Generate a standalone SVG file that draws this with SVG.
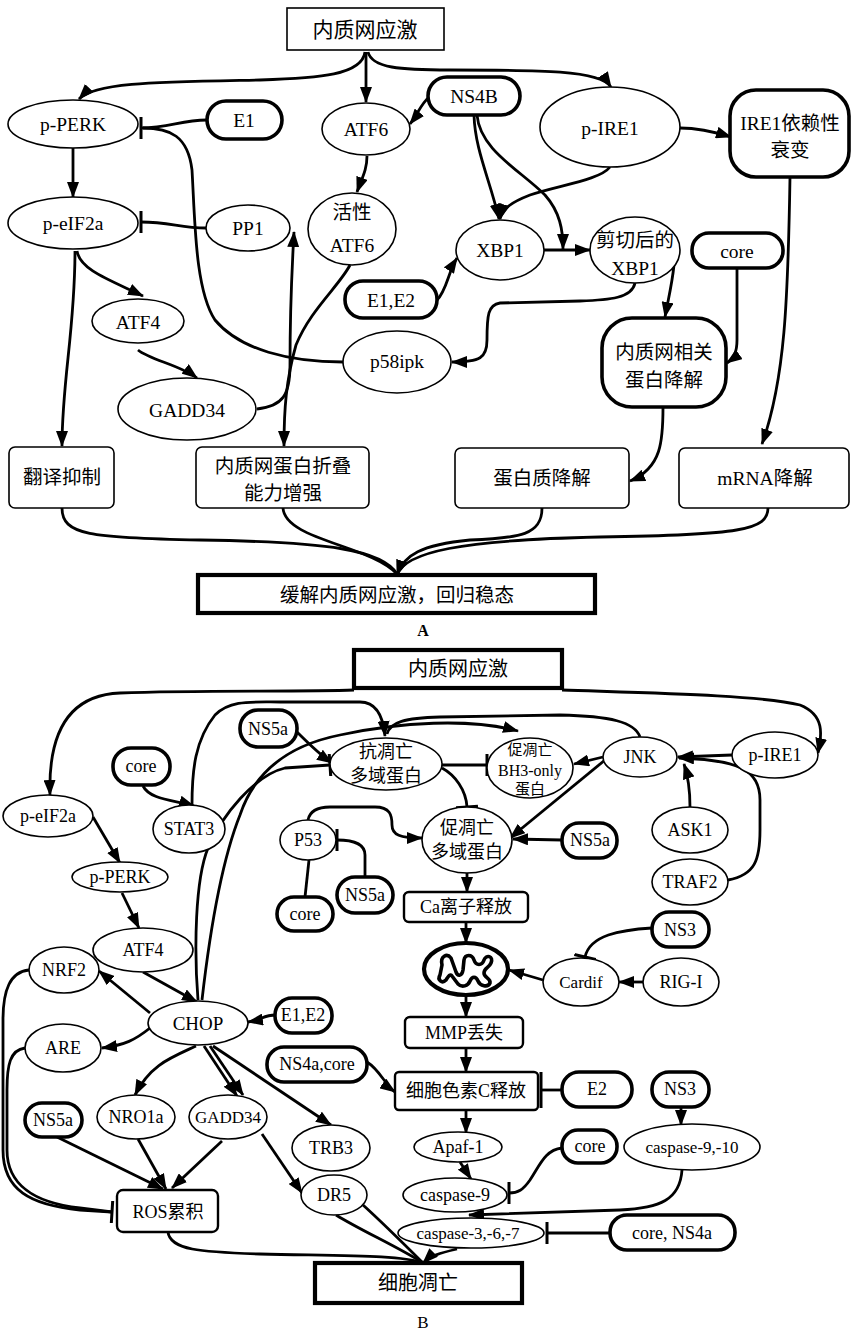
<svg xmlns="http://www.w3.org/2000/svg" width="851" height="1331" viewBox="0 0 851 1331">
<style>
.n{fill:#fff;stroke:#000;stroke-width:1.6}
.k{fill:#fff;stroke:#000;stroke-width:3.6}
.b{fill:#fff;stroke:#000;stroke-width:2.4}
.w{fill:#fff;stroke:#000;stroke-width:4.2}
.c path{fill:none;stroke:#000;stroke-width:2.8}
text{font-family:"Liberation Serif","Times New Roman","Noto Sans CJK SC",serif;text-anchor:middle;dominant-baseline:central;fill:#000}
.ta text{font-size:19.5px}
.tb text{font-size:18px}
</style>
<defs>
<marker id="ar" markerUnits="userSpaceOnUse" markerWidth="16" markerHeight="12" viewBox="0 0 16 12" refX="15" refY="6" orient="auto"><path d="M0,0 L16,6 L0,12 z" fill="#000"/></marker>
<marker id="br" markerUnits="userSpaceOnUse" markerWidth="4" markerHeight="22" viewBox="0 0 4 22" refX="2" refY="11" orient="auto"><path d="M2,0 L2,22" stroke="#000" stroke-width="3"/></marker>
<marker id="bl" markerUnits="userSpaceOnUse" markerWidth="4" markerHeight="36" viewBox="0 0 4 36" refX="2" refY="18" orient="auto"><path d="M2,0 L2,36" stroke="#000" stroke-width="3"/></marker>
</defs>

<!-- ===== Part A connectors ===== -->
<g id="connectors-a" class="c">
<path d="M365,52 C362,75 320,78 260,80 C160,82 95,82 79,99" marker-end="url(#ar)"/>
<path d="M366,52 L366,102" marker-end="url(#ar)"/>
<path d="M368,52 C372,68 400,70 450,70 C540,70 600,70 611,87" marker-end="url(#ar)"/>
<path d="M430,96 C420,105 418,114 410,124" marker-end="url(#ar)"/>
<path d="M207,120 C180,120 170,128 141,128" marker-end="url(#br)"/>
<path d="M343,362 C290,362 240,350 215,320 C195,290 195,220 192,170 C188,136 170,128 143,128"/>
<path d="M73,148 L73,197" marker-end="url(#ar)"/>
<path d="M206,228 C180,228 170,222 141,222" marker-end="url(#br)"/>
<path d="M77,251 C80,270 110,280 143,296" marker-end="url(#ar)"/>
<path d="M75,251 C75,330 62,380 62,446" marker-end="url(#ar)"/>
<path d="M138,350 C150,360 180,365 197,378" marker-end="url(#ar)"/>
<path d="M257,409 C283,406 290,395 290,365 C290,300 292,270 294,232" marker-end="url(#ar)"/>
<path d="M367,156 C367,170 362,178 357,192" marker-end="url(#ar)"/>
<path d="M350,265 C340,285 310,310 296,345 C286,380 284,410 284,446" marker-end="url(#ar)"/>
<path d="M474,115 C475,150 490,180 499,219" marker-end="url(#ar)"/>
<path d="M610,167 C600,180 560,185 530,195 C512,202 503,208 500,219" marker-end="url(#ar)"/>
<path d="M477,115 C480,150 520,170 545,195 C560,212 563,230 563,249" marker-end="url(#ar)"/>
<path d="M544,250 L590,250" marker-end="url(#ar)"/>
<path d="M437,300 C447,290 448,272 457,258" marker-end="url(#ar)"/>
<path d="M635,283 C632,298 610,300 580,301 L500,303 C488,305 487,315 487,340 C487,358 480,362 452,362" marker-end="url(#ar)"/>
<path d="M674,265 C672,285 668,300 665,317" marker-end="url(#ar)"/>
<path d="M737,268 L737,340 C737,352 734,358 727,363" marker-end="url(#ar)"/>
<path d="M680,128 C700,128 715,132 731,137" marker-end="url(#ar)"/>
<path d="M790,177 C788,300 785,380 762,444" marker-end="url(#ar)"/>
<path d="M663,407 C663,440 662,468 630,481" marker-end="url(#ar)"/>
<path d="M62,508 C62,535 90,538 200,540 C330,542 382,550 397,574"/>
<path d="M283,508 C285,540 370,545 397,574"/>
<path d="M542,508 C542,535 520,538 470,540 C420,545 405,555 397,574"/>
<path d="M768,508 C768,530 740,535 600,537 C460,540 405,552 397,575" marker-end="url(#ar)"/>
</g>

<!-- ===== Part A nodes ===== -->
<g class="ta">
<g id="a-stress"><rect class="n" x="287" y="8" width="157" height="42"/><text x="365" y="30" style="font-size:21px">内质网应激</text></g>
<g id="a-pperk"><ellipse class="n" cx="73" cy="124" rx="65" ry="24"/><text x="73" y="124">p-PERK</text></g>
<g id="a-e1"><rect class="k" x="207" y="101" width="75" height="38" rx="19"/><text x="244" y="120">E1</text></g>
<g id="a-atf6"><ellipse class="n" cx="366" cy="129" rx="44" ry="26"/><text x="366" y="129">ATF6</text></g>
<g id="a-ns4b"><rect class="k" x="428" y="77" width="92" height="38" rx="19"/><text x="474" y="96">NS4B</text></g>
<g id="a-pire1"><ellipse class="n" cx="610" cy="127" rx="70" ry="40"/><text x="610" y="128">p-IRE1</text></g>
<g id="a-ire1dec"><rect class="k" x="730" y="90" width="119" height="87" rx="26"/><text x="790" y="123">IRE1依赖性</text><text x="790" y="150">衰变</text></g>
<g id="a-peif2a"><ellipse class="n" cx="73" cy="223" rx="65" ry="26"/><text x="73" y="223">p-eIF2a</text></g>
<g id="a-pp1"><ellipse class="n" cx="248" cy="228" rx="42" ry="23"/><text x="248" y="228">PP1</text></g>
<g id="a-actatf6"><ellipse class="n" cx="352" cy="229" rx="44" ry="36"/><text x="352" y="212">活性</text><text x="352" y="245">ATF6</text></g>
<g id="a-xbp1"><ellipse class="n" cx="500" cy="250" rx="44" ry="30"/><text x="500" y="250">XBP1</text></g>
<g id="a-cxbp1"><ellipse class="n" cx="635" cy="250" rx="45" ry="33"/><text x="635" y="240">剪切后的</text><text x="635" y="268">XBP1</text></g>
<g id="a-core"><rect class="k" x="692" y="233" width="91" height="35" rx="17"/><text x="737" y="251">core</text></g>
<g id="a-e1e2"><rect class="k" x="345" y="281" width="92" height="37" rx="18"/><text x="391" y="300">E1,E2</text></g>
<g id="a-atf4"><ellipse class="n" cx="138" cy="321" rx="46" ry="22"/><text x="138" y="322">ATF4</text></g>
<g id="a-p58ipk"><ellipse class="n" cx="397" cy="362" rx="54" ry="31"/><text x="397" y="361">p58ipk</text></g>
<g id="a-gadd34"><ellipse class="n" cx="187" cy="409" rx="69" ry="31"/><text x="187" y="410">GADD34</text></g>
<g id="a-erad"><rect class="k" x="602" y="318" width="124" height="89" rx="30"/><text x="664" y="352">内质网相关</text><text x="664" y="380">蛋白降解</text></g>
<g id="a-trans"><rect class="n" x="9" y="447" width="105" height="61" rx="6"/><text x="62" y="477">翻译抑制</text></g>
<g id="a-fold"><rect class="n" x="196" y="447" width="173" height="61" rx="6"/><text x="283" y="466">内质网蛋白折叠</text><text x="283" y="493">能力增强</text></g>
<g id="a-pdeg"><rect class="n" x="455" y="448" width="174" height="60" rx="6"/><text x="542" y="478">蛋白质降解</text></g>
<g id="a-mdeg"><rect class="n" x="679" y="448" width="170" height="60" rx="6"/><text x="765" y="478">mRNA降解</text></g>
<g id="a-relief"><rect class="w" x="198" y="575" width="397" height="38"/><text x="397" y="595">缓解内质网应激，回归稳态</text></g>
<text x="423" y="630" style="font-size:16px;font-weight:bold">A</text>
</g>

<!-- ===== Part B connectors ===== -->
<g id="connectors-b" class="c">
<path d="M354,690 C300,692 200,690 120,693 C70,695 48,730 50,795" marker-end="url(#ar)"/>
<path d="M562,690 C650,693 760,695 800,705 C825,715 822,735 818,753" marker-end="url(#ar)"/>
<path d="M192,805 C192,770 195,740 215,715 C230,700 250,702 280,702 L360,702 C375,702 383,715 385,736" marker-end="url(#ar)"/>
<path d="M640,737 C635,722 610,716 560,715 L440,717 C405,718 390,722 387,734"/>
<path d="M202,1000 C210,930 222,860 240,815 C255,770 290,745 340,735 C400,722 470,718 518,731" marker-end="url(#ar)"/>
<path d="M198,1000 C194,950 195,880 208,848 C222,815 255,775 285,768 L330,765" marker-end="url(#br)"/>
<path d="M297,732 C310,745 320,755 332,763" marker-end="url(#ar)"/>
<path d="M143,786 C150,800 175,800 194,806" marker-end="url(#ar)"/>
<path d="M442,765 L487,765" marker-end="url(#br)"/>
<path d="M442,768 C455,775 466,790 467,807" marker-end="url(#br)"/>
<path d="M603,757 L574,764" marker-end="url(#ar)"/>
<path d="M605,760 L510,838" marker-end="url(#ar)"/>
<path d="M562,840 L513,839" marker-end="url(#ar)"/>
<path d="M308,820 C310,810 318,807 330,807 L375,807 C390,807 392,815 392,825 C392,835 400,838 422,838" marker-end="url(#ar)"/>
<path d="M365,877 L365,855 C365,845 355,840 337,840" marker-end="url(#br)"/>
<path d="M305,897 L309,860"/>
<path d="M732,755 L678,757" marker-end="url(#ar)"/>
<path d="M690,807 C690,790 688,776 684,764" marker-end="url(#ar)"/>
<path d="M728,880 C755,875 760,860 760,830 L760,800 C760,770 740,760 679,758" marker-end="url(#ar)"/>
<path d="M467,873 L467,892" marker-end="url(#ar)"/>
<path d="M466,922 L466,943" marker-end="url(#ar)"/>
<path d="M466,995 L466,1017" marker-end="url(#ar)"/>
<path d="M543,980 L509,970" marker-end="url(#ar)"/>
<path d="M643,982 L619,982" marker-end="url(#ar)"/>
<path d="M652,928 C620,930 590,935 585,957" marker-end="url(#br)"/>
<path d="M466,1048 L466,1072" marker-end="url(#ar)"/>
<path d="M367,1062 C380,1070 385,1085 395,1092" marker-end="url(#ar)"/>
<path d="M562,1090 L541,1090" marker-end="url(#bl)"/>
<path d="M681,1107 L681,1125" marker-end="url(#ar)"/>
<path d="M466,1110 L466,1133" marker-end="url(#ar)"/>
<path d="M460,1162 L471,1179" marker-end="url(#ar)"/>
<path d="M562,1148 C545,1150 540,1165 530,1180 C523,1190 518,1193 509,1193" marker-end="url(#br)"/>
<path d="M682,1170 C680,1200 660,1208 620,1210 L469,1215" marker-end="url(#ar)"/>
<path d="M610,1233 L547,1233" marker-end="url(#br)"/>
<path d="M457,1249 C440,1253 430,1256 423,1263" marker-end="url(#ar)"/>
<path d="M336,1215 C360,1230 400,1248 423,1263"/>
<path d="M363,1205 C385,1225 405,1245 423,1263"/>
<path d="M168,1232 C170,1250 200,1252 260,1254 C350,1256 400,1255 423,1263"/>
<path d="M93,817 L120,863" marker-end="url(#ar)"/>
<path d="M122,893 L139,928" marker-end="url(#ar)"/>
<path d="M143,972 L197,1002" marker-end="url(#ar)"/>
<path d="M275,1015 C265,1015 260,1020 248,1022" marker-end="url(#ar)"/>
<path d="M150,1013 L99,971" marker-end="url(#ar)"/>
<path d="M150,1028 C135,1040 125,1045 102,1048" marker-end="url(#ar)"/>
<path d="M29,970 C10,972 3,990 3,1020 L3,1150 C3,1190 30,1205 80,1210 L112,1212" marker-end="url(#br)"/>
<path d="M25,1048 C10,1050 7,1065 7,1090 L7,1150 C7,1185 35,1203 80,1208 L112,1212"/>
<path d="M196,1046 C170,1058 150,1065 135,1095" marker-end="url(#ar)"/>
<path d="M204,1046 L237,1096" marker-end="url(#ar)"/>
<path d="M210,1046 L243,1095" marker-end="url(#ar)"/>
<path d="M213,1046 L331,1125" marker-end="url(#ar)"/>
<path d="M57,1137 L163,1189" marker-end="url(#ar)"/>
<path d="M138,1139 L166,1189" marker-end="url(#ar)"/>
<path d="M222,1141 L172,1188" marker-end="url(#ar)"/>
<path d="M262,1134 L302,1193" marker-end="url(#ar)"/>
</g>

<!-- ===== Part B nodes ===== -->
<g class="tb">
<g id="b-stress"><rect class="w" x="354" y="650" width="208" height="38"/><text x="458" y="669" style="font-size:20px">内质网应激</text></g>
<g id="b-ns5a-1"><rect class="k" x="240" y="710" width="57" height="37" rx="18"/><text x="268" y="729">NS5a</text></g>
<g id="b-anti"><ellipse class="n" cx="386" cy="764" rx="56" ry="26"/><text x="386" y="752">抗凋亡</text><text x="386" y="776">多域蛋白</text></g>
<g id="b-bh3"><ellipse class="n" cx="530" cy="768" rx="43" ry="30"/><text x="530" y="750" style="font-size:15px">促凋亡</text><text x="530" y="770" style="font-size:16px">BH3-only</text><text x="530" y="789" style="font-size:15px">蛋白</text></g>
<g id="b-jnk"><ellipse class="n" cx="640" cy="757" rx="37" ry="20"/><text x="640" y="757">JNK</text></g>
<g id="b-pire1"><ellipse class="n" cx="775" cy="755" rx="43" ry="23"/><text x="775" y="755">p-IRE1</text></g>
<g id="b-core-1"><rect class="k" x="113" y="748" width="57" height="37" rx="18"/><text x="141" y="766">core</text></g>
<g id="b-peif2a"><ellipse class="n" cx="48" cy="816" rx="45" ry="21"/><text x="48" y="816">p-eIF2a</text></g>
<g id="b-stat3"><ellipse class="n" cx="189" cy="829" rx="36" ry="24"/><text x="189" y="829">STAT3</text></g>
<g id="b-pro"><ellipse class="n" cx="467" cy="840" rx="45" ry="33"/><text x="467" y="828">促凋亡</text><text x="467" y="852">多域蛋白</text></g>
<g id="b-ns5a-2"><rect class="k" x="562" y="823" width="55" height="35" rx="17"/><text x="590" y="840">NS5a</text></g>
<g id="b-ask1"><ellipse class="n" cx="690" cy="830" rx="38" ry="23"/><text x="690" y="830">ASK1</text></g>
<g id="b-p53"><ellipse class="n" cx="308" cy="840" rx="28" ry="20"/><text x="308" y="840">P53</text></g>
<g id="b-pperk"><ellipse class="n" cx="120" cy="877" rx="48" ry="15"/><text x="120" y="877">p-PERK</text></g>
<g id="b-traf2"><ellipse class="n" cx="690" cy="882" rx="38" ry="23"/><text x="690" y="882">TRAF2</text></g>
<g id="b-ns5a-3"><rect class="k" x="337" y="877" width="56" height="36" rx="18"/><text x="365" y="895">NS5a</text></g>
<g id="b-core-2"><rect class="k" x="277" y="897" width="56" height="34" rx="17"/><text x="305" y="914">core</text></g>
<g id="b-ca"><rect class="b" x="404" y="892" width="124" height="30" rx="5"/><text x="466" y="907">Ca离子释放</text></g>
<g id="b-ns3-1"><rect class="k" x="652" y="912" width="57" height="35" rx="17"/><text x="680" y="930">NS3</text></g>
<g id="b-atf4"><ellipse class="n" cx="143" cy="950" rx="50" ry="22"/><text x="143" y="950">ATF4</text></g>
<g id="b-mito"><ellipse class="w" cx="466" cy="969" rx="42" ry="26"/>
<path d="M442,965 C440,956 447,953 451,958 L456,972 C458,977 462,976 463,970 L464,960 C465,954 472,954 474,960 C476,966 482,966 484,960 C486,954 494,956 491,963 C489,968 484,968 484,973 C484,978 491,978 490,983 C488,988 480,986 478,981 C476,976 472,976 470,981 C468,986 462,988 458,984 L452,976 C450,973 448,977 446,980 C442,984 437,980 440,975 Z" fill="none" stroke="#000" stroke-width="3.6" stroke-linejoin="round"/></g>
<g id="b-nrf2"><ellipse class="n" cx="64" cy="970" rx="35" ry="23"/><text x="64" y="970">NRF2</text></g>
<g id="b-cardif"><ellipse class="n" cx="581" cy="982" rx="38" ry="24"/><text x="581" y="982" style="font-size:17px">Cardif</text></g>
<g id="b-rigi"><ellipse class="n" cx="681" cy="982" rx="38" ry="24"/><text x="681" y="982">RIG-I</text></g>
<g id="b-e1e2"><rect class="k" x="275" y="998" width="57" height="35" rx="17"/><text x="303" y="1015">E1,E2</text></g>
<g id="b-chop"><ellipse class="n" cx="198" cy="1023" rx="50" ry="22"/><text x="198" y="1023" style="font-size:19px">CHOP</text></g>
<g id="b-mmp"><rect class="b" x="405" y="1017" width="118" height="31" rx="5"/><text x="464" y="1033">MMP丢失</text></g>
<g id="b-are"><ellipse class="n" cx="63" cy="1048" rx="38" ry="24"/><text x="63" y="1048">ARE</text></g>
<g id="b-ns4acore"><rect class="k" x="267" y="1047" width="100" height="35" rx="17"/><text x="317" y="1064">NS4a,core</text></g>
<g id="b-cytc"><rect class="b" x="395" y="1072" width="143" height="38" rx="4"/><text x="466" y="1091">细胞色素C释放</text></g>
<g id="b-e2"><rect class="k" x="562" y="1072" width="70" height="35" rx="17"/><text x="597" y="1089">E2</text></g>
<g id="b-ns3-2"><rect class="k" x="652" y="1072" width="57" height="35" rx="17"/><text x="680" y="1089">NS3</text></g>
<g id="b-ns5a-4"><rect class="k" x="25" y="1103" width="57" height="34" rx="17"/><text x="53" y="1120">NS5a</text></g>
<g id="b-nro1a"><ellipse class="n" cx="136" cy="1117" rx="39" ry="22"/><text x="136" y="1117">NRO1a</text></g>
<g id="b-gadd34"><ellipse class="n" cx="228" cy="1117" rx="39" ry="22"/><text x="228" y="1117" style="font-size:17px">GADD34</text></g>
<g id="b-apaf"><ellipse class="n" cx="458" cy="1147" rx="44" ry="15"/><text x="458" y="1147">Apaf-1</text></g>
<g id="b-core-3"><rect class="k" x="562" y="1130" width="55" height="33" rx="16"/><text x="590" y="1146">core</text></g>
<g id="b-c910"><ellipse class="n" cx="692" cy="1147" rx="68" ry="23"/><text x="692" y="1147" style="font-size:17px">caspase-9,-10</text></g>
<g id="b-trb3"><ellipse class="n" cx="331" cy="1148" rx="39" ry="23"/><text x="331" y="1148">TRB3</text></g>
<g id="b-c9"><ellipse class="n" cx="455" cy="1195" rx="52" ry="17"/><text x="455" y="1195">caspase-9</text></g>
<g id="b-ros"><rect class="b" x="117" y="1190" width="101" height="42" rx="6"/><text x="168" y="1212">ROS累积</text></g>
<g id="b-dr5"><ellipse class="n" cx="334" cy="1195" rx="33" ry="20"/><text x="334" y="1195">DR5</text></g>
<g id="b-c367"><ellipse class="n" cx="471" cy="1233" rx="73" ry="15"/><text x="468" y="1233" style="font-size:17px">caspase-3,-6,-7</text></g>
<g id="b-corens4a"><rect class="k" x="610" y="1215" width="125" height="35" rx="17"/><text x="672" y="1233">core, NS4a</text></g>
<g id="b-apop"><rect class="w" x="315" y="1263" width="207" height="40"/><text x="418" y="1283" style="font-size:20px">细胞凋亡</text></g>
<text x="423" y="1322" style="font-size:17px">B</text>
</g>
</svg>
